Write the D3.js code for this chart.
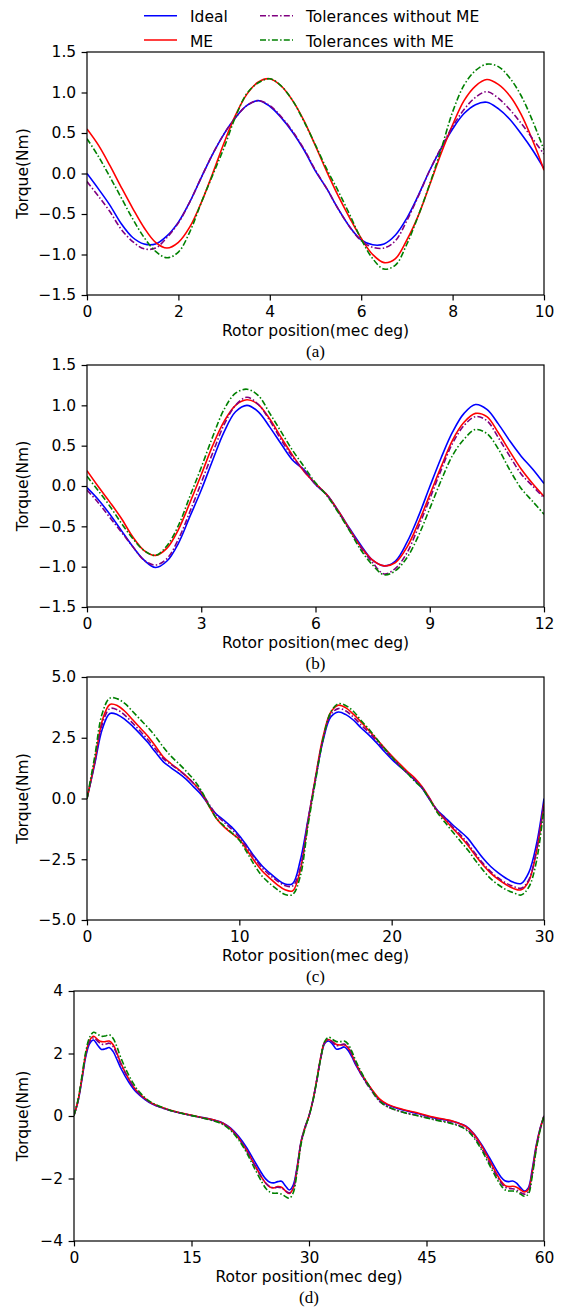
<!DOCTYPE html>
<html>
<head>
<meta charset="utf-8">
<script src="https://cdn.jsdelivr.net/npm/d3@7"></script>
<style>
  body { margin: 0; background: #fff; }
  text { font-family: "DejaVu Sans", sans-serif; }
</style>
</head>
<body>
<div id="chart"></div>
<script>
// Series names (legend order)
const seriesNames = ["Ideal", "ME", "Tolerances without ME", "Tolerances with ME"];

// ---- Panel (a) ----
const posA = [0,0.25,0.5,0.75,1,1.25,1.5,1.75,2,2.25,2.5,2.75,3,3.25,3.5,3.75,4,4.25,4.5,4.75,5,
  5.25,5.5,5.75,6,6.25,6.5,6.75,7,7.25,7.5,7.75,8,8.25,8.5,8.75,9,9.25,9.5,9.75,10];
const idealA = [0.00,-0.19,-0.39,-0.62,-0.79,-0.87,-0.87,-0.77,-0.60,-0.35,-0.05,0.24,0.49,0.69,0.84,0.90,0.83,0.69,0.51,0.29,0.03,
  -0.19,-0.44,-0.66,-0.82,-0.88,-0.87,-0.76,-0.55,-0.27,0.04,0.31,0.55,0.74,0.85,0.88,0.80,0.67,0.49,0.29,0.06];
const meA = [0.55,0.35,0.10,-0.17,-0.43,-0.67,-0.85,-0.92,-0.85,-0.66,-0.36,0.00,0.38,0.72,0.98,1.13,1.17,1.08,0.90,0.65,0.34,
  0.02,-0.28,-0.55,-0.80,-1.00,-1.10,-1.05,-0.82,-0.52,-0.14,0.25,0.60,0.90,1.08,1.16,1.10,0.96,0.73,0.41,0.04];
const tolA = [-0.10,-0.28,-0.47,-0.69,-0.84,-0.93,-0.92,-0.79,-0.61,-0.35,-0.05,0.24,0.49,0.69,0.84,0.90,0.84,0.70,0.52,0.30,0.04,
  -0.19,-0.44,-0.66,-0.83,-0.91,-0.92,-0.83,-0.58,-0.28,0.04,0.32,0.58,0.79,0.94,1.01,0.93,0.79,0.62,0.43,0.24];
const tolMeA = [0.43,0.21,-0.04,-0.30,-0.56,-0.79,-0.96,-1.04,-0.97,-0.72,-0.36,-0.02,0.32,0.70,0.99,1.12,1.17,1.08,0.90,0.64,0.35,
  0.05,-0.22,-0.51,-0.81,-1.05,-1.18,-1.13,-0.87,-0.52,-0.13,0.30,0.76,1.09,1.27,1.35,1.32,1.18,0.96,0.65,0.29];
const xTicksA = [0, 2, 4, 6, 8, 10];
const yTicksA = [-1.5, -1.0, -0.5, 0.0, 0.5, 1.0, 1.5];

// ---- Panel (b) ----
const posB = [0,0.3,0.6,0.9,1.2,1.5,1.8,2.1,2.4,2.7,3,3.3,3.6,3.9,4.2,4.5,4.8,5.1,5.4,5.7,6,
  6.3,6.6,6.9,7.2,7.5,7.8,8.1,8.4,8.7,9,9.3,9.6,9.9,10.2,10.5,10.8,11.1,11.4,11.7,12];
const idealB = [-0.02,-0.17,-0.35,-0.55,-0.75,-0.92,-1.01,-0.93,-0.71,-0.38,-0.05,0.32,0.67,0.92,1.00,0.92,0.73,0.52,0.32,0.20,0.02,
  -0.11,-0.31,-0.53,-0.74,-0.92,-0.99,-0.93,-0.70,-0.38,-0.01,0.35,0.67,0.90,1.01,0.95,0.77,0.56,0.37,0.21,0.03];
const meB = [0.19,-0.01,-0.20,-0.40,-0.63,-0.80,-0.86,-0.77,-0.54,-0.21,0.14,0.50,0.80,1.00,1.07,1.01,0.83,0.60,0.38,0.18,0.03,
  -0.11,-0.31,-0.54,-0.76,-0.92,-0.99,-0.95,-0.76,-0.46,-0.11,0.24,0.57,0.79,0.90,0.86,0.66,0.43,0.21,0.03,-0.13];
const tolB = [-0.05,-0.21,-0.39,-0.57,-0.75,-0.92,-0.98,-0.90,-0.66,-0.32,0.04,0.41,0.76,1.00,1.10,1.01,0.81,0.57,0.36,0.19,0.02,
  -0.11,-0.32,-0.55,-0.77,-0.95,-1.09,-1.02,-0.83,-0.51,-0.16,0.20,0.53,0.75,0.86,0.81,0.60,0.37,0.15,0.00,-0.15];
const tolMeB = [0.12,-0.06,-0.25,-0.46,-0.65,-0.80,-0.86,-0.74,-0.49,-0.13,0.23,0.61,0.95,1.15,1.20,1.12,0.90,0.67,0.44,0.24,0.04,
  -0.12,-0.33,-0.56,-0.80,-0.98,-1.10,-1.05,-0.89,-0.62,-0.28,0.07,0.38,0.58,0.70,0.65,0.46,0.20,-0.03,-0.19,-0.35];
const xTicksB = [0, 3, 6, 9, 12];
const yTicksB = [-1.5, -1.0, -0.5, 0.0, 0.5, 1.0, 1.5];

// ---- Panel (c) ----
const posC = [0,0.5,1,1.5,2,2.5,3,3.5,4,4.5,5,5.5,6,6.5,7,7.5,8,8.5,9,9.5,10,10.5,11,11.5,12,12.5,13,13.5,14,14.5,15,
  15.5,16,16.5,17,17.5,18,18.5,19,19.5,20,20.5,21,21.5,22,22.5,23,23.5,24,24.5,25,25.5,26,26.5,27,27.5,28,28.5,29,29.5,30];
const idealC = [0,1.40,2.85,3.50,3.45,3.25,2.97,2.65,2.30,1.90,1.52,1.27,1.05,0.80,0.48,0.16,-0.28,-0.65,-0.90,-1.18,-1.53,
  -1.95,-2.40,-2.78,-3.07,-3.33,-3.52,-3.50,-2.55,-0.90,0.80,2.40,3.35,3.56,3.45,3.22,2.90,2.62,2.30,1.95,1.62,
  1.33,1.06,0.76,0.42,-0.05,-0.48,-0.78,-1.08,-1.35,-1.64,-2.05,-2.46,-2.80,-3.06,-3.28,-3.45,-3.50,-3.05,-1.90,0.00];
const meC = [0,1.50,3.20,3.87,3.82,3.58,3.24,2.90,2.56,2.15,1.72,1.44,1.20,0.93,0.62,0.26,-0.30,-0.82,-1.17,-1.43,-1.68,
  -2.12,-2.58,-2.98,-3.28,-3.55,-3.76,-3.80,-2.95,-1.00,0.88,2.55,3.55,3.84,3.73,3.46,3.14,2.80,2.45,2.10,1.76,
  1.44,1.13,0.85,0.48,0.00,-0.52,-0.87,-1.22,-1.56,-1.92,-2.35,-2.74,-3.07,-3.33,-3.54,-3.70,-3.76,-3.40,-2.20,-0.20];
const tolC = [0,1.45,3.05,3.70,3.65,3.42,3.10,2.77,2.42,2.03,1.65,1.40,1.18,0.93,0.62,0.27,-0.22,-0.68,-0.98,-1.27,-1.60,
  -2.02,-2.46,-2.86,-3.15,-3.40,-3.58,-3.60,-2.85,-0.95,0.85,2.45,3.45,3.70,3.60,3.34,3.02,2.72,2.38,2.03,1.69,
  1.37,1.06,0.79,0.45,-0.02,-0.50,-0.82,-1.16,-1.48,-1.85,-2.27,-2.67,-3.01,-3.27,-3.48,-3.62,-3.69,-3.35,-2.15,-0.14];
const tolMeC = [0,1.70,3.50,4.13,4.10,3.90,3.58,3.25,2.92,2.55,2.12,1.75,1.45,1.13,0.78,0.33,-0.28,-0.82,-1.13,-1.41,-1.72,
  -2.22,-2.75,-3.20,-3.50,-3.75,-3.95,-3.95,-3.20,-1.15,0.72,2.45,3.55,3.90,3.82,3.58,3.20,2.86,2.47,2.08,1.72,
  1.37,1.06,0.72,0.42,-0.05,-0.58,-0.98,-1.37,-1.75,-2.12,-2.55,-2.95,-3.30,-3.55,-3.75,-3.88,-3.97,-3.65,-2.60,-0.34];
const xTicksC = [0, 10, 20, 30];
const yTicksC = [-5.0, -2.5, 0.0, 2.5, 5.0];

// ---- Panel (d) ----
const posD = [0,0.5,1,1.5,2,2.5,3,3.5,4,4.5,5,5.5,6,7,8,9,10,12,14,16,18,19,20,21,22,23,24,
  24.5,25,25.5,26,26.5,27,27.5,28,28.5,29,29.5,30,30.5,31,31.5,32,32.5,33,33.5,34,34.5,35,35.5,36,
  37,38,39,40,42,44,46,48,49,50,51,52,53,54,54.5,55,55.5,56,56.5,57,57.5,58,58.5,59,59.5,60];
const idealD = [0.02,0.45,1.15,1.90,2.32,2.43,2.27,2.13,2.15,2.19,2.06,1.80,1.52,1.08,0.75,0.54,0.38,0.20,0.07,-0.03,-0.14,-0.22,-0.39,-0.65,-1.00,-1.43,-1.85,
  -2.02,-2.12,-2.14,-2.10,-2.09,-2.24,-2.37,-2.20,-1.60,-0.80,-0.35,0.00,0.50,1.15,1.85,2.32,2.40,2.30,2.14,2.16,2.21,2.10,1.88,1.62,
  1.20,0.84,0.52,0.36,0.19,0.07,-0.06,-0.15,-0.22,-0.32,-0.55,-0.90,-1.32,-1.76,-1.95,-2.07,-2.10,-2.08,-2.15,-2.29,-2.40,-2.30,-1.70,-0.95,-0.40,0.00];
const meD = [0.02,0.48,1.20,1.98,2.42,2.55,2.45,2.38,2.38,2.40,2.28,2.00,1.68,1.18,0.80,0.57,0.40,0.21,0.08,-0.03,-0.14,-0.23,-0.41,-0.70,-1.08,-1.53,-1.98,
  -2.16,-2.27,-2.30,-2.26,-2.28,-2.40,-2.48,-2.30,-1.65,-0.82,-0.36,0.00,0.50,1.17,1.88,2.36,2.45,2.38,2.29,2.27,2.28,2.18,1.95,1.67,
  1.23,0.86,0.55,0.38,0.21,0.09,-0.04,-0.14,-0.22,-0.33,-0.57,-0.94,-1.40,-1.87,-2.08,-2.22,-2.26,-2.25,-2.28,-2.36,-2.43,-2.35,-1.78,-1.00,-0.42,0.00];
const tolD = [0.02,0.47,1.18,1.95,2.38,2.50,2.40,2.30,2.30,2.33,2.22,1.96,1.65,1.17,0.80,0.56,0.39,0.20,0.07,-0.04,-0.16,-0.25,-0.43,-0.72,-1.10,-1.55,-1.98,
  -2.15,-2.26,-2.30,-2.28,-2.30,-2.40,-2.46,-2.30,-1.66,-0.83,-0.37,0.00,0.50,1.16,1.87,2.35,2.44,2.36,2.25,2.27,2.30,2.20,1.96,1.66,
  1.18,0.80,0.47,0.30,0.12,0.01,-0.11,-0.21,-0.29,-0.40,-0.64,-1.02,-1.48,-1.94,-2.13,-2.27,-2.32,-2.33,-2.37,-2.45,-2.50,-2.42,-1.85,-1.05,-0.44,0.00];
const tolMeD = [0.02,0.50,1.25,2.05,2.52,2.68,2.62,2.55,2.56,2.60,2.48,2.20,1.85,1.30,0.88,0.60,0.42,0.21,0.07,-0.04,-0.17,-0.27,-0.46,-0.76,-1.16,-1.65,-2.12,
  -2.32,-2.43,-2.47,-2.47,-2.50,-2.58,-2.63,-2.45,-1.75,-0.88,-0.40,0.00,0.48,1.13,1.85,2.38,2.52,2.45,2.38,2.38,2.40,2.30,2.05,1.75,
  1.25,0.83,0.48,0.30,0.12,0.00,-0.12,-0.23,-0.31,-0.43,-0.68,-1.07,-1.55,-2.02,-2.22,-2.36,-2.40,-2.40,-2.42,-2.50,-2.57,-2.50,-1.92,-1.08,-0.46,0.00];
const xTicksD = [0, 15, 30, 45, 60];
const yTicksD = [-4, -2, 0, 2, 4];

// Styles
const colors = ["#0000ff", "#ff0000", "#800080", "#008000"];
const dashes = [null, null, "6,2.2,1.5,2.2", "6,2.2,1.5,2.2"];
const fontSize = 15.5;

const width = 563, height = 1307;
const svg = d3.select("#chart")
    .append("svg")
    .attr("width", width)
    .attr("height", height);

// Panel layout
const panels = [
    { xs: posA, ys: [idealA, meA, tolA, tolMeA], xDom: [0, 10], yDom: [-1.5, 1.5],
      xTicks: xTicksA, yTicks: yTicksA, fmt: d3.format(".1f"), left: 87, top: 52, bottom: 295, caption: "(a)" },
    { xs: posB, ys: [idealB, meB, tolB, tolMeB], xDom: [0, 12], yDom: [-1.5, 1.5],
      xTicks: xTicksB, yTicks: yTicksB, fmt: d3.format(".1f"), left: 87, top: 365, bottom: 607, caption: "(b)" },
    { xs: posC, ys: [idealC, meC, tolC, tolMeC], xDom: [0, 30], yDom: [-5, 5],
      xTicks: xTicksC, yTicks: yTicksC, fmt: d3.format(".1f"), left: 87, top: 677, bottom: 920, caption: "(c)" },
    { xs: posD, ys: [idealD, meD, tolD, tolMeD], xDom: [0, 60], yDom: [-4, 4],
      xTicks: xTicksD, yTicks: yTicksD, fmt: d3.format("d"), left: 74, top: 991, bottom: 1241, caption: "(d)" }
];
const right = 544;

panels.forEach((p, i) => {
    const w = right - p.left;
    const h = p.bottom - p.top;
    const g = svg.append("g").attr("transform", `translate(${p.left},${p.top})`);

    const x = d3.scaleLinear().domain(p.xDom).range([0, w]);
    const y = d3.scaleLinear().domain(p.yDom).range([h, 0]);

    // clip to the axes box
    g.append("clipPath").attr("id", "clip" + i)
        .append("rect").attr("width", w).attr("height", h);

    const line = d3.line()
        .x((d, k) => x(p.xs[k]))
        .y(d => y(d))
        .curve(d3.curveCatmullRom.alpha(0.5));

    p.ys.forEach((vals, s) => {
        g.append("path")
            .attr("clip-path", `url(#clip${i})`)
            .attr("d", line(vals))
            .attr("fill", "none")
            .attr("stroke", colors[s])
            .attr("stroke-width", 1.6)
            .attr("stroke-dasharray", dashes[s]);
    });

    // X axis
    const xAxis = g.append("g")
        .attr("transform", `translate(0,${h})`)
        .call(d3.axisBottom(x).tickValues(p.xTicks).tickFormat(d3.format("d"))
            .tickSize(5.4).tickPadding(5.4).tickSizeOuter(0));
    // Y axis
    const yAxis = g.append("g")
        .call(d3.axisLeft(y).tickValues(p.yTicks).tickFormat(p.fmt)
            .tickSize(5.4).tickPadding(5.4).tickSizeOuter(0));

    [xAxis, yAxis].forEach(a => {
        a.select(".domain").remove();
        a.selectAll("line").attr("stroke", "#000").attr("stroke-width", 1.2);
        a.selectAll("text").attr("font-size", fontSize).attr("fill", "#000")
            .attr("font-family", "DejaVu Sans");
    });

    // Frame
    g.append("rect")
        .attr("width", w).attr("height", h)
        .attr("fill", "none")
        .attr("stroke", "#000")
        .attr("stroke-width", 1.2);

    // X label
    g.append("text")
        .attr("x", w / 2).attr("y", h + 41)
        .attr("text-anchor", "middle")
        .attr("font-size", fontSize)
        .text("Rotor position(mec deg)");

    // Caption
    g.append("text")
        .attr("x", w / 2).attr("y", h + 62)
        .attr("text-anchor", "middle")
        .attr("font-size", 17)
        .style("font-family", "'Liberation Serif', 'Times New Roman', serif")
        .text(p.caption);

    // Y label
    svg.append("text")
        .attr("transform", `translate(27.5,${(p.top + p.bottom) / 2}) rotate(-90)`)
        .attr("text-anchor", "middle")
        .attr("font-size", fontSize)
        .text("Torque(Nm)");
});

// Legend (two columns)
const legendPos = [
    { x: 144, y: 15.7 }, { x: 144, y: 40 },
    { x: 260, y: 15.7 }, { x: 260, y: 40 }
];
seriesNames.forEach((name, s) => {
    const lp = legendPos[s];
    svg.append("line")
        .attr("x1", lp.x).attr("x2", lp.x + 33)
        .attr("y1", lp.y).attr("y2", lp.y)
        .attr("stroke", colors[s])
        .attr("stroke-width", 1.6)
        .attr("stroke-dasharray", dashes[s]);
    svg.append("text")
        .attr("x", lp.x + 46).attr("y", lp.y + 6.5)
        .attr("font-size", fontSize)
        .text(name);
});
</script>
</body>
</html>
